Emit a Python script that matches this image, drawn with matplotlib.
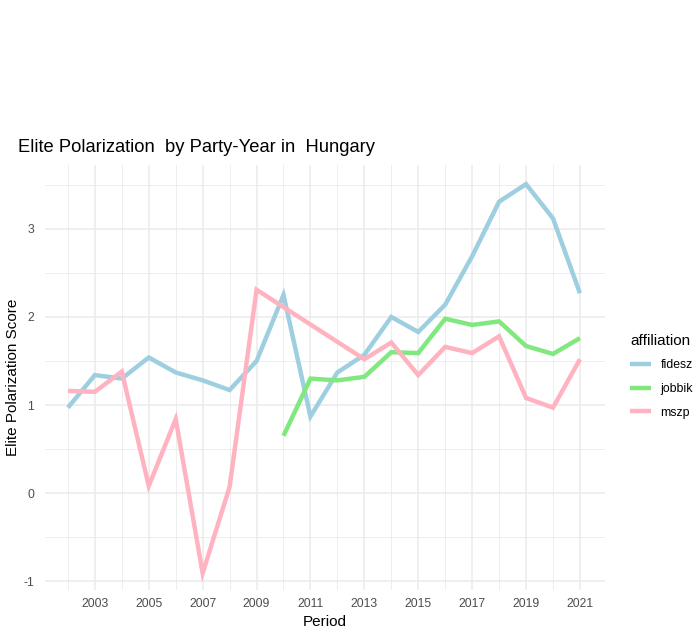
import matplotlib
matplotlib.use("Agg")
import matplotlib.pyplot as plt
from matplotlib.ticker import MultipleLocator, FixedLocator

plt.rcParams['font.family'] = ['Liberation Sans', 'DejaVu Sans']

fidesz_years = list(range(2002, 2022))
fidesz_vals = [0.97, 1.34, 1.30, 1.54, 1.37, 1.28, 1.17, 1.50, 2.25, 0.87,
               1.37, 1.57, 2.00, 1.83, 2.14, 2.69, 3.31, 3.51, 3.12, 2.27]

jobbik_years = list(range(2010, 2022))
jobbik_vals = [0.65, 1.30, 1.28, 1.32, 1.60, 1.59, 1.98, 1.91, 1.95, 1.67, 1.58, 1.76]

mszp_years = [2002, 2003, 2004, 2005, 2006, 2007, 2008, 2009, 2013, 2014,
              2015, 2016, 2017, 2018, 2019, 2020, 2021]
mszp_vals = [1.16, 1.15, 1.38, 0.08, 0.84, -0.91, 0.07, 2.31, 1.52, 1.71,
             1.34, 1.66, 1.59, 1.78, 1.08, 0.97, 1.52]

series = [("fidesz", fidesz_years, fidesz_vals, "#9ecfe0"),
          ("jobbik", jobbik_years, jobbik_vals, "#80e87f"),
          ("mszp", mszp_years, mszp_vals, "#ffb3c1")]

x_ticks = list(range(2003, 2022, 2))

W, H = 698, 632
fig = plt.figure(figsize=(W / 100, H / 100), dpi=100)
left, right, top, bottom = 45, 605, 165, 590
ax = fig.add_axes([left / W, 1 - bottom / H, (right - left) / W, (bottom - top) / H])

for name, xs, ys, c in series:
    ax.plot(xs, ys, color=c, lw=3.2, label=name, solid_capstyle='butt', solid_joinstyle='miter')

ax.set_xlim(2001.15, 2021.93)
ax.set_ylim(-1.102, 3.727)

ax.xaxis.set_major_locator(FixedLocator(x_ticks))
ax.xaxis.set_minor_locator(FixedLocator(list(range(2002, 2022, 2))))
ax.yaxis.set_major_locator(MultipleLocator(1))
ax.yaxis.set_minor_locator(MultipleLocator(0.5))

ax.grid(which='major', color='#ebebeb', lw=1.1)
ax.grid(which='minor', color='#ebebeb', lw=0.6)
ax.set_axisbelow(True)
for s in ax.spines.values():
    s.set_visible(False)
ax.tick_params(which='both', length=0)
ax.tick_params(axis='both', labelsize=8.8, labelcolor='#4d4d4d')
ax.tick_params(axis='x', pad=6)
ax.tick_params(axis='y', pad=8)
ax.set_yticks([-1, 0, 1, 2, 3])
ax.set_yticklabels(['-1', '0', '1', '2', '3'])

ax.set_xlabel("Period", fontsize=11, color='black', labelpad=3)
ax.set_ylabel("Elite Polarization Score", fontsize=11, color='black', labelpad=2)

fig.text(18 / W, 1 - 148 / H, "Elite Polarization  by Party-Year in  Hungary",
         fontsize=13.2, ha='left', va='center')

leg = ax.legend(loc='upper left', bbox_to_anchor=(625 / W, 1 - 329 / H),
                bbox_transform=fig.transFigure, frameon=False, title="affiliation",
                fontsize=8.8, title_fontsize=11, handlelength=1.7, handletextpad=0.8,
                labelspacing=0.95, borderaxespad=0)
leg._legend_box.align = "left"

fig.savefig("out.png", dpi=100)
